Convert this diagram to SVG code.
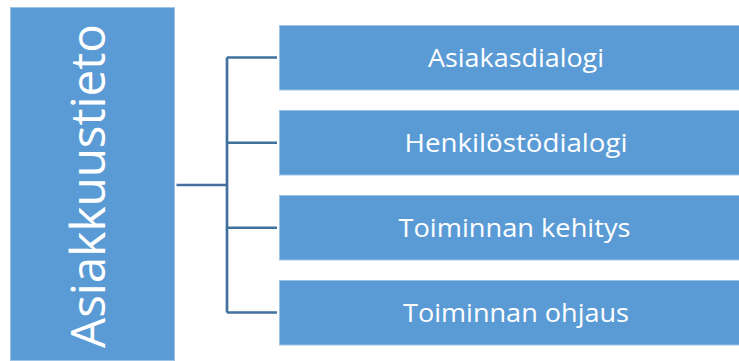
<svg xmlns="http://www.w3.org/2000/svg" width="739" height="361" viewBox="0 0 739 361">
<style>
.box{fill:#5B9BD5;stroke:#9DC3E6;stroke-width:1}
.lbl{font-family:"Open Sans","Liberation Sans",sans-serif;font-size:26px;fill:#FFFFFF;text-anchor:middle}
.main{font-family:"Open Sans","Liberation Sans",sans-serif;font-size:48px;fill:#FFFFFF;text-anchor:middle}
.conn{fill:none;stroke:#41719C;stroke-width:2.7}
</style>
<rect width="739" height="361" fill="#FFFFFF"/>
<g id="connectors">
<path class="conn" d="M176.5 185 H227 M227 57.5 V312.5 M227 57.5 H277 M227 142.75 H277 M227 227.75 H277 M227 312.5 H277"/>
</g>
<g id="node-asiakkuustieto">
<rect class="box" x="10.5" y="7.5" width="164" height="353"/>
<text class="main" transform="translate(105,186) rotate(-90)" x="0" y="0" textLength="324" lengthAdjust="spacingAndGlyphs">Asiakkuustieto</text>
</g>
<g id="node-asiakasdialogi">
<rect class="box" x="279.5" y="25.5" width="462" height="64.5"/>
<text class="lbl" x="516" y="66.7" textLength="176" lengthAdjust="spacingAndGlyphs">Asiakasdialogi</text>
</g>
<g id="node-henkilostodialogi">
<rect class="box" x="279.5" y="110.5" width="462" height="64.5"/>
<text class="lbl" x="516" y="151.7" textLength="223" lengthAdjust="spacingAndGlyphs">Henkilöstödialogi</text>
</g>
<g id="node-toiminnan-kehitys">
<rect class="box" x="279.5" y="195.5" width="462" height="64.5"/>
<text class="lbl" x="514.5" y="236.7" textLength="232" lengthAdjust="spacingAndGlyphs">Toiminnan kehitys</text>
</g>
<g id="node-toiminnan-ohjaus">
<rect class="box" x="279.5" y="280.5" width="462" height="64.5"/>
<text class="lbl" x="516" y="321.7" textLength="226" lengthAdjust="spacingAndGlyphs">Toiminnan ohjaus</text>
</g>
</svg>
